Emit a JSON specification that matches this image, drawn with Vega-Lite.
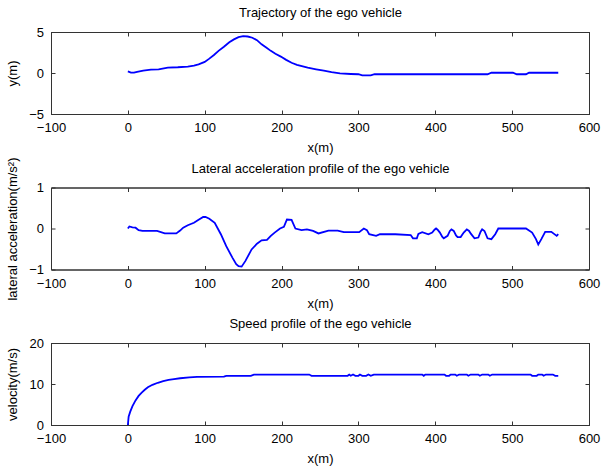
{
  "$schema": "https://vega.github.io/schema/vega-lite/v6.json",
  "padding": {"left": 5, "top": 6, "right": 5, "bottom": 3},
  "background": "white",
  "config": {
    "view": {"stroke": "#333333", "strokeWidth": 1},
    "font": "Liberation Sans",
    "axis": {
      "grid": false,
      "domainColor": "#333333",
      "tickColor": "#333333",
      "tickSize": -4,
      "labelPadding": 11.5,
      "labelFont": "Liberation Sans",
      "labelFontSize": 13,
      "labelColor": "#000000",
      "labelFlush": false,
      "labelOverlap": false,
      "titleFont": "Liberation Sans",
      "titleFontSize": 13,
      "titleFontWeight": "normal",
      "titleColor": "#000000",
      "titlePadding": 7
    }
  },
  "datasets": {
    "traj": [
      {"x": 0, "y": 0.2}, {"x": 4, "y": 0.05}, {"x": 8, "y": 0.05}, {"x": 12, "y": 0.15},
      {"x": 20, "y": 0.3}, {"x": 30, "y": 0.4}, {"x": 40, "y": 0.45}, {"x": 52, "y": 0.65},
      {"x": 65, "y": 0.7}, {"x": 78, "y": 0.78}, {"x": 86, "y": 0.9}, {"x": 92, "y": 1.05},
      {"x": 100, "y": 1.35}, {"x": 106, "y": 1.75}, {"x": 112, "y": 2.2}, {"x": 118, "y": 2.7},
      {"x": 125, "y": 3.2}, {"x": 132, "y": 3.75}, {"x": 138, "y": 4.1}, {"x": 144, "y": 4.38},
      {"x": 150, "y": 4.5}, {"x": 156, "y": 4.45}, {"x": 162, "y": 4.3}, {"x": 168, "y": 4.0},
      {"x": 174, "y": 3.5}, {"x": 180, "y": 3.1}, {"x": 186, "y": 2.7}, {"x": 192, "y": 2.35},
      {"x": 199, "y": 2.0}, {"x": 206, "y": 1.6}, {"x": 213, "y": 1.25}, {"x": 220, "y": 1.0},
      {"x": 234, "y": 0.65}, {"x": 245, "y": 0.45}, {"x": 255, "y": 0.28}, {"x": 265, "y": 0.1},
      {"x": 276, "y": -0.05}, {"x": 290, "y": -0.12}, {"x": 300, "y": -0.15}, {"x": 305, "y": -0.3},
      {"x": 316, "y": -0.3}, {"x": 321, "y": -0.15}, {"x": 468, "y": -0.15}, {"x": 473, "y": 0.03},
      {"x": 501, "y": 0.03}, {"x": 506, "y": -0.15}, {"x": 518, "y": -0.15}, {"x": 522, "y": 0.03},
      {"x": 560, "y": 0.03}
    ],
    "acc": [
      {"x": 0, "y": 0.0}, {"x": 2, "y": 0.05}, {"x": 6, "y": 0.03}, {"x": 10, "y": 0.02},
      {"x": 14, "y": -0.04}, {"x": 19, "y": -0.06}, {"x": 38, "y": -0.06}, {"x": 48, "y": -0.12},
      {"x": 63, "y": -0.12}, {"x": 68, "y": -0.05}, {"x": 72, "y": 0.02}, {"x": 78, "y": 0.08},
      {"x": 86, "y": 0.14}, {"x": 91, "y": 0.2}, {"x": 98, "y": 0.28}, {"x": 101, "y": 0.28},
      {"x": 106, "y": 0.24}, {"x": 113, "y": 0.14}, {"x": 121, "y": -0.14}, {"x": 128, "y": -0.43},
      {"x": 136, "y": -0.71}, {"x": 141, "y": -0.87}, {"x": 144, "y": -0.92}, {"x": 148, "y": -0.93},
      {"x": 153, "y": -0.79}, {"x": 161, "y": -0.51}, {"x": 168, "y": -0.37}, {"x": 174, "y": -0.29},
      {"x": 181, "y": -0.28}, {"x": 186, "y": -0.18}, {"x": 191, "y": -0.1}, {"x": 198, "y": 0.0},
      {"x": 203, "y": 0.04}, {"x": 207, "y": 0.22}, {"x": 213, "y": 0.21}, {"x": 218, "y": 0.0},
      {"x": 226, "y": -0.04}, {"x": 233, "y": -0.02}, {"x": 241, "y": -0.06}, {"x": 248, "y": -0.12},
      {"x": 261, "y": -0.05}, {"x": 273, "y": -0.05}, {"x": 281, "y": -0.09}, {"x": 301, "y": -0.09},
      {"x": 307, "y": 0.0}, {"x": 311, "y": -0.04}, {"x": 314, "y": -0.14}, {"x": 323, "y": -0.18},
      {"x": 328, "y": -0.14}, {"x": 348, "y": -0.14}, {"x": 368, "y": -0.16}, {"x": 371, "y": -0.24},
      {"x": 376, "y": -0.24}, {"x": 378, "y": -0.13}, {"x": 383, "y": -0.09}, {"x": 391, "y": -0.14},
      {"x": 396, "y": -0.1}, {"x": 399, "y": -0.03}, {"x": 401, "y": 0.0}, {"x": 403, "y": -0.03},
      {"x": 406, "y": -0.1}, {"x": 409, "y": -0.2}, {"x": 411, "y": -0.24}, {"x": 416, "y": -0.18},
      {"x": 419, "y": -0.06}, {"x": 421, "y": -0.02}, {"x": 424, "y": -0.06}, {"x": 427, "y": -0.17},
      {"x": 429, "y": -0.21}, {"x": 433, "y": -0.21}, {"x": 437, "y": -0.1}, {"x": 441, "y": -0.02},
      {"x": 444, "y": -0.06}, {"x": 446, "y": -0.12}, {"x": 451, "y": -0.24}, {"x": 456, "y": -0.22},
      {"x": 459, "y": -0.08}, {"x": 461, "y": -0.02}, {"x": 464, "y": -0.06}, {"x": 468, "y": -0.24},
      {"x": 473, "y": -0.26}, {"x": 478, "y": -0.14}, {"x": 482, "y": 0.0}, {"x": 518, "y": 0.0},
      {"x": 526, "y": -0.1}, {"x": 531, "y": -0.26}, {"x": 534, "y": -0.39}, {"x": 538, "y": -0.26},
      {"x": 543, "y": -0.08}, {"x": 551, "y": -0.08}, {"x": 558, "y": -0.18}, {"x": 560, "y": -0.14}
    ],
    "speed": [
      {"x": 0, "y": 0}, {"x": 1, "y": 2.0}, {"x": 3, "y": 3.2}, {"x": 6, "y": 4.6},
      {"x": 10, "y": 6.0}, {"x": 14, "y": 7.1}, {"x": 18, "y": 7.9}, {"x": 22, "y": 8.6},
      {"x": 26, "y": 9.2}, {"x": 32, "y": 9.8}, {"x": 39, "y": 10.3}, {"x": 46, "y": 10.7},
      {"x": 53, "y": 11.0}, {"x": 60, "y": 11.2}, {"x": 68, "y": 11.4}, {"x": 80, "y": 11.6},
      {"x": 90, "y": 11.75}, {"x": 125, "y": 11.8}, {"x": 128, "y": 12.0}, {"x": 160, "y": 12.0},
      {"x": 164, "y": 12.3}, {"x": 236, "y": 12.3}, {"x": 239, "y": 12.0}, {"x": 286, "y": 12.0},
      {"x": 288, "y": 12.3}, {"x": 290, "y": 12.0}, {"x": 293, "y": 12.3}, {"x": 296, "y": 12.0},
      {"x": 300, "y": 12.0}, {"x": 302, "y": 12.3}, {"x": 305, "y": 12.0}, {"x": 310, "y": 12.0},
      {"x": 313, "y": 12.3}, {"x": 316, "y": 12.0}, {"x": 320, "y": 12.3}, {"x": 383, "y": 12.3},
      {"x": 385, "y": 12.0}, {"x": 387, "y": 12.3}, {"x": 412, "y": 12.3}, {"x": 414, "y": 12.0},
      {"x": 418, "y": 12.0}, {"x": 420, "y": 12.3}, {"x": 426, "y": 12.3}, {"x": 428, "y": 12.0},
      {"x": 431, "y": 12.3}, {"x": 441, "y": 12.3}, {"x": 443, "y": 12.0}, {"x": 446, "y": 12.3},
      {"x": 456, "y": 12.3}, {"x": 458, "y": 12.0}, {"x": 461, "y": 12.3}, {"x": 469, "y": 12.3},
      {"x": 471, "y": 12.0}, {"x": 474, "y": 12.3}, {"x": 524, "y": 12.3}, {"x": 526, "y": 12.0},
      {"x": 532, "y": 12.0}, {"x": 534, "y": 12.3}, {"x": 539, "y": 12.3}, {"x": 541, "y": 12.0},
      {"x": 544, "y": 12.3}, {"x": 553, "y": 12.3}, {"x": 556, "y": 12.0}, {"x": 560, "y": 12.0}
    ]
  },
  "vconcat": [
    {
      "data": {"name": "traj"},
      "width": 538,
      "height": 82,
      "layer": [
        {
          "mark": {"type": "line", "color": "#0000ff", "strokeWidth": 1.8},
          "encoding": {
            "x": {"field": "x", "type": "quantitative", "scale": {"domain": [-100, 600], "nice": false}, "axis": {"values": [-100, 0, 100, 200, 300, 400, 500, 600], "title": "x(m)"}},
            "y": {"field": "y", "type": "quantitative", "scale": {"domain": [-5, 5], "nice": false}, "axis": {"values": [-5, 0, 5], "labelExpr": "format(datum.value, '~g')", "title": "y(m)", "titleX": -39, "titleBaseline": "middle"}}
          }
        },
        {
          "mark": {"type": "line", "opacity": 0},
          "encoding": {
            "x": {"field": "x", "type": "quantitative", "axis": {"orient": "top", "values": [-100, 0, 100, 200, 300, 400, 500, 600], "labels": false, "title": "Trajectory of the ego vehicle", "titlePadding": 12}},
            "y": {"field": "y", "type": "quantitative", "axis": {"orient": "right", "values": [-5, 0, 5], "labels": false, "title": null}}
          }
        }
      ],
      "resolve": {"axis": {"x": "independent", "y": "independent"}}
    },
    {
      "data": {"name": "acc"},
      "width": 538,
      "height": 82,
      "layer": [
        {
          "mark": {"type": "line", "color": "#0000ff", "strokeWidth": 1.8},
          "encoding": {
            "x": {"field": "x", "type": "quantitative", "scale": {"domain": [-100, 600], "nice": false}, "axis": {"values": [-100, 0, 100, 200, 300, 400, 500, 600], "title": "x(m)"}},
            "y": {"field": "y", "type": "quantitative", "scale": {"domain": [-1, 1], "nice": false}, "axis": {"values": [-1, 0, 1], "labelExpr": "format(datum.value, '~g')", "title": "lateral acceleration(m/s²)", "titleX": -39, "titleBaseline": "middle"}}
          }
        },
        {
          "mark": {"type": "line", "opacity": 0},
          "encoding": {
            "x": {"field": "x", "type": "quantitative", "axis": {"orient": "top", "values": [-100, 0, 100, 200, 300, 400, 500, 600], "labels": false, "title": "Lateral acceleration profile of the ego vehicle", "titlePadding": 12}},
            "y": {"field": "y", "type": "quantitative", "axis": {"orient": "right", "values": [-1, 0, 1], "labels": false, "title": null}}
          }
        }
      ],
      "resolve": {"axis": {"x": "independent", "y": "independent"}}
    },
    {
      "data": {"name": "speed"},
      "width": 538,
      "height": 82,
      "layer": [
        {
          "mark": {"type": "line", "color": "#0000ff", "strokeWidth": 1.8},
          "encoding": {
            "x": {"field": "x", "type": "quantitative", "scale": {"domain": [-100, 600], "nice": false}, "axis": {"values": [-100, 0, 100, 200, 300, 400, 500, 600], "title": "x(m)"}},
            "y": {"field": "y", "type": "quantitative", "scale": {"domain": [0, 20], "nice": false}, "axis": {"values": [0, 10, 20], "labelExpr": "format(datum.value, '~g')", "title": "velocity(m/s)", "titleX": -39, "titleBaseline": "middle"}}
          }
        },
        {
          "mark": {"type": "line", "opacity": 0},
          "encoding": {
            "x": {"field": "x", "type": "quantitative", "axis": {"orient": "top", "values": [-100, 0, 100, 200, 300, 400, 500, 600], "labels": false, "title": "Speed profile of the ego vehicle", "titlePadding": 12}},
            "y": {"field": "y", "type": "quantitative", "axis": {"orient": "right", "values": [0, 10, 20], "labels": false, "title": null}}
          }
        }
      ],
      "resolve": {"axis": {"x": "independent", "y": "independent"}}
    }
  ],
  "spacing": 73.5,
  "bounds": "flush"
}
